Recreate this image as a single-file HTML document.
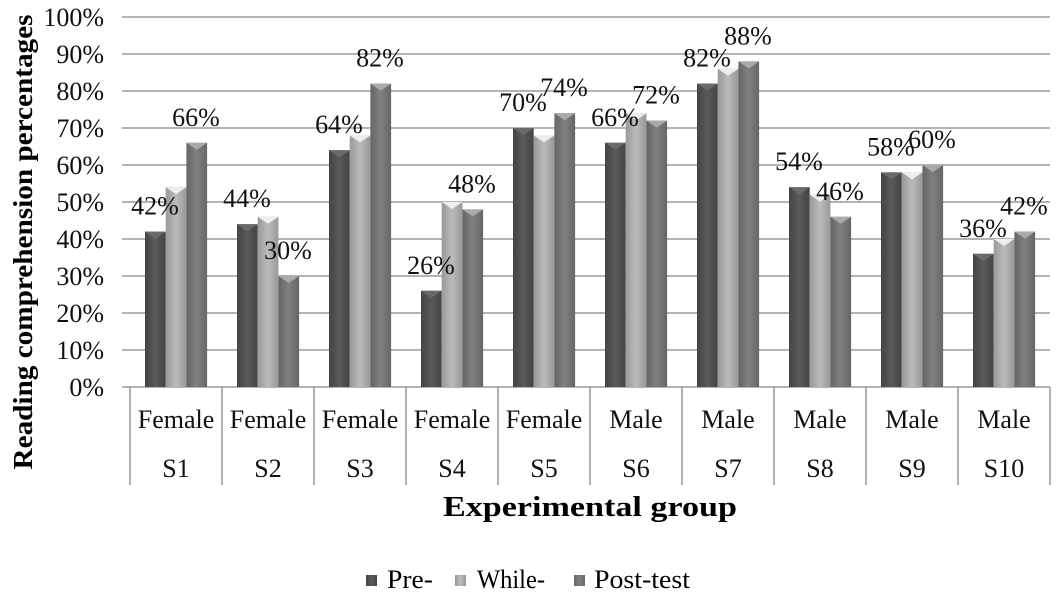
<!DOCTYPE html>
<html><head><meta charset="utf-8"><style>
html,body{margin:0;padding:0;background:#fff;}
svg text{font-family:"Liberation Serif",serif;}
</style></head><body>
<svg width="1061" height="597" xmlns="http://www.w3.org/2000/svg">
<defs>
<linearGradient id="g1" x1="0" x2="1"><stop offset="0" stop-color="#444"/><stop offset="0.5" stop-color="#5a5a5a"/><stop offset="1" stop-color="#444"/></linearGradient>
<linearGradient id="g2" x1="0" x2="1"><stop offset="0" stop-color="#999"/><stop offset="0.5" stop-color="#bbb"/><stop offset="1" stop-color="#999"/></linearGradient>
<linearGradient id="g3" x1="0" x2="1"><stop offset="0" stop-color="#666"/><stop offset="0.5" stop-color="#808080"/><stop offset="1" stop-color="#666"/></linearGradient>
</defs>
<g id="grid" stroke="#888" stroke-width="1.3"></g>
<g id="bars"></g>
<g id="txt" style="font-size:26px" fill="#111"></g>
<text transform="translate(32,242) rotate(-90)" text-anchor="middle" style="font-size:27px;font-weight:bold" textLength="455" lengthAdjust="spacingAndGlyphs">Reading comprehension  percentages</text>
<text x="590" y="516" text-anchor="middle" style="font-size:28px;font-weight:bold" textLength="294" lengthAdjust="spacingAndGlyphs">Experimental group</text>
<g style="font-size:26px">
<rect x="366" y="575" width="11" height="11" fill="url(#g1)"/><text x="387" y="588" textLength="46" lengthAdjust="spacingAndGlyphs">Pre-</text>
<rect x="455" y="575" width="11" height="11" fill="url(#g2)"/><text x="477" y="588" textLength="68" lengthAdjust="spacingAndGlyphs">While-</text>
<rect x="574" y="575" width="11" height="11" fill="url(#g3)"/><text x="594" y="588" textLength="96" lengthAdjust="spacingAndGlyphs">Post-test</text>
</g>
</svg>
<script>
var ns="http://www.w3.org/2000/svg";
function el(p,t,a,txt){var e=document.createElementNS(ns,t);for(var k in a)e.setAttribute(k,a[k]);if(txt!=null)e.textContent=txt;document.getElementById(p).appendChild(e);}
var L=130,R=1050,Y0=387,H=370,W=92;
for(var i=0;i<=10;i++){var y=Y0-i*37;el("grid","line",{x1:122,x2:R,y1:y,y2:y});el("txt","text",{x:104,y:y+9,"text-anchor":"end"},(i*10)+"%");}
for(var i=0;i<=10;i++){var x=L+i*W;el("grid","line",{x1:x,x2:x,y1:Y0,y2:485});}
var pre=[42,44,64,26,70,66,82,54,58,36],wh=[54,46,68,50,68,74,86,52,58,40],po=[66,30,82,48,74,72,88,46,60,42];
var sex=["Female","Female","Female","Female","Female","Male","Male","Male","Male","Male"];
var gs=["g1","g2","g3"],cap=["#6a6a6a","#eee","#aaa"];
for(var i=0;i<10;i++){var x0=L+i*W+15;[pre,wh,po].forEach(function(s,j){var x=x0+j*20.7,h=s[i]*3.7,y=Y0-h;
el("bars","rect",{x:x,y:y,width:20.7,height:h,fill:"url(#"+gs[j]+")"});
el("bars","polygon",{points:x+","+y+" "+(x+20.7)+","+y+" "+(x+10.35)+","+(y+7),fill:cap[j]});});
el("txt","text",{x:x0+10,y:Y0-pre[i]*3.7-17,"text-anchor":"middle"},pre[i]+"%");
el("txt","text",{x:x0+51,y:Y0-po[i]*3.7-17,"text-anchor":"middle"},po[i]+"%");
el("txt","text",{x:L+i*W+W/2,y:428,"text-anchor":"middle"},sex[i]);
el("txt","text",{x:L+i*W+W/2,y:477,"text-anchor":"middle"},"S"+(i+1));}
</script>
</body></html>
